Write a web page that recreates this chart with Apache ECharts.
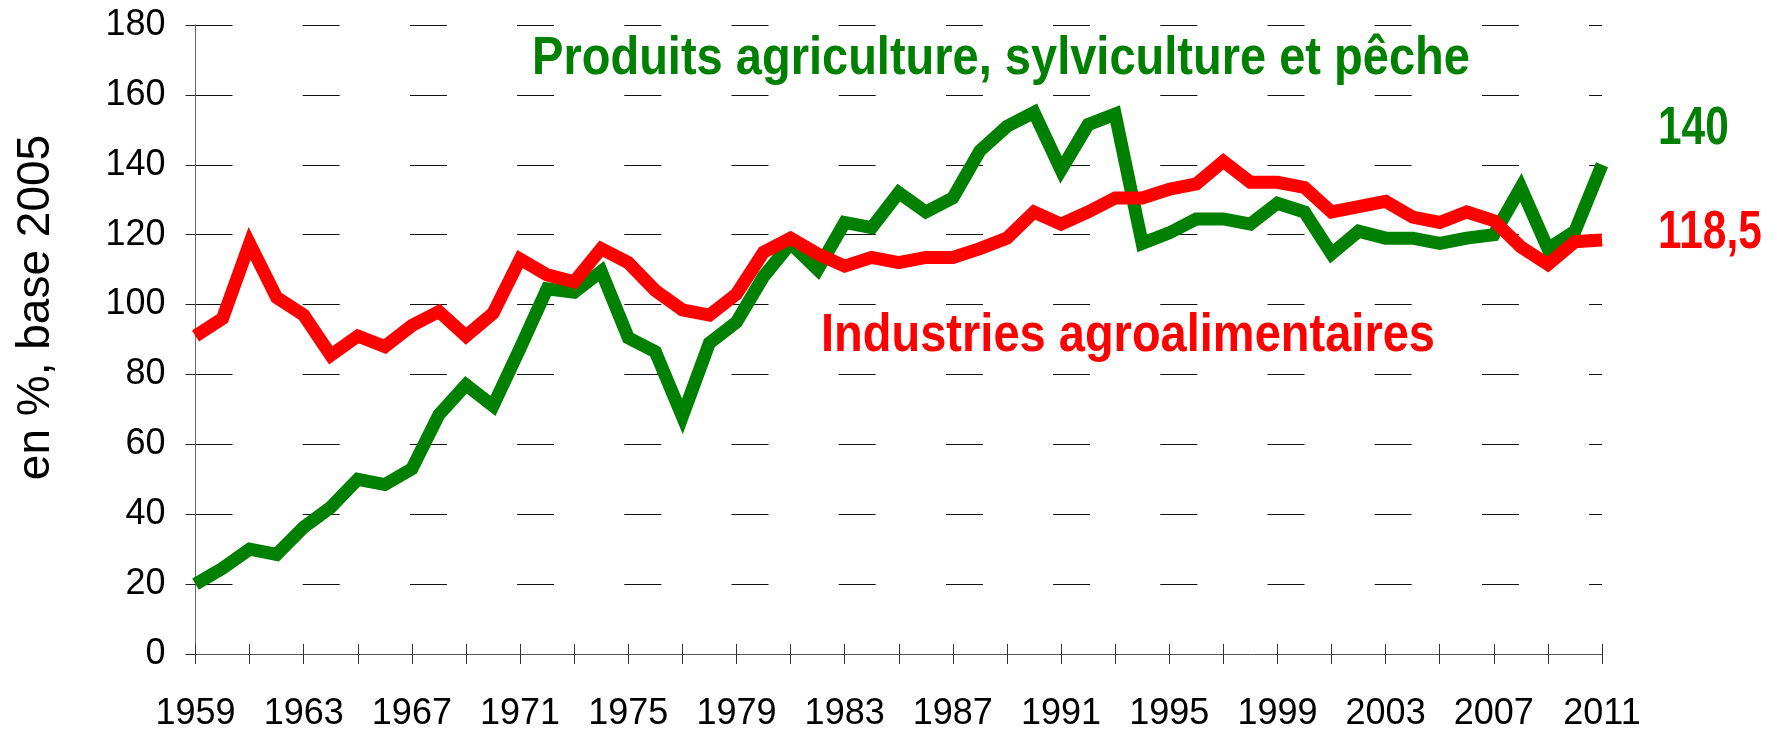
<!DOCTYPE html>
<html>
<head>
<meta charset="utf-8">
<script src="https://cdn.jsdelivr.net/npm/echarts@6/dist/echarts.min.js"></script>
<style>
	body { margin: 0; background: #fff; }
	#chart { width: 1777px; height: 732px; }
</style>
</head>
<body>
<div id="chart"></div>
<script>
	// années 1959 -> 2011
	var years = [];
	for (var y = 1959; y <= 2011; y++) years.push(String(y));

	// Produits agriculture, sylviculture et pêche (base 2005)
	var agri = [
		20, 24.5, 30, 28.5, 36.3, 42, 50, 48.5, 53, 68.5,
		77, 71, 87.5, 104.5, 103.5, 109.5, 90.5, 86.5, 68, 89,
		95, 108, 117.5, 110, 123.5, 122, 132, 126.5, 130.5, 144,
		151, 155, 138.5, 151.5, 154.5, 117.5, 120.5, 124.5, 124.5, 123,
		129, 126.5, 114.5, 121, 119, 119, 117.5, 119, 120, 133.5,
		116, 121, 140
	];
	// Industries agroalimentaires (base 2005)
	var iaa = [
		91, 96, 117.5, 102, 97, 85.5, 91, 88, 94, 98,
		91, 97.5, 113, 108.5, 106.5, 116, 112, 104, 98.5, 97,
		103, 115, 119, 114.5, 111, 113.5, 112, 113.5, 113.5, 116,
		119, 126.5, 123, 126.5, 130.5, 130.5, 133, 134.5, 141, 135,
		135, 133.5, 126.5, 128, 129.5, 125, 123.5, 126.5, 124, 116.5,
		111.5, 118, 118.5
	];
	var agriName = 'Produits agriculture, sylviculture et pêche';
	var iaaName = 'Industries agroalimentaires';
	var agriEnd = '140';
	var iaaEnd = '118,5';

	var GREEN = '#008000', RED = '#FF0000';
	var sans = '"Liberation Sans", Arial, sans-serif';
	var bold = 'bold 53px ' + sans;

	// texte gras "étroit" : police normale comprimée horizontalement
	function narrowText(txt, x, y, color, align, sx) {
		return {
			type: 'text',
			x: x, y: y,
			scaleX: sx,
			style: { text: txt, fill: color, font: bold, align: align, verticalAlign: 'middle' }
		};
	}

	var myChart = echarts.init(document.getElementById('chart'));
	myChart.setOption({
		animation: false,
		backgroundColor: '#fff',
		grid: { left: 195.5, right: 175, top: 25, bottom: 77 },
		xAxis: [{
			type: 'category',
			data: years,
			boundaryGap: false,
			axisLine: { lineStyle: { color: '#555', width: 1 } },
			axisTick: { interval: 1, length: 10, lineStyle: { color: '#333' } },
			axisLabel: { interval: 3, fontSize: 36, fontFamily: sans, color: '#000', margin: 42 },
			splitLine: { show: false }
		}, {
			// petites graduations vers l'intérieur (croisées)
			type: 'category',
			data: years,
			boundaryGap: false,
			position: 'bottom',
			axisLine: { show: false },
			axisTick: { interval: 1, length: 10, inside: true, lineStyle: { color: '#333' } },
			axisLabel: { show: false },
			splitLine: { show: false }
		}],
		yAxis: {
			type: 'value',
			min: 0,
			max: 180,
			interval: 20,
			axisLine: { show: true, lineStyle: { color: '#666', width: 1 } },
			axisTick: { show: true, length: 10, lineStyle: { color: '#222' } },
			axisLabel: { fontSize: 36, fontFamily: sans, color: '#000', margin: 30 },
			splitLine: { show: true, lineStyle: { color: '#111', width: 1, type: [37, 70.2] } }
		},
		series: [{
			name: agriName,
			type: 'line',
			data: agri,
			showSymbol: false,
			lineStyle: { color: GREEN, width: 13, join: 'miter', miterLimit: 10 },
			itemStyle: { color: GREEN },
			z: 2
		}, {
			name: iaaName,
			type: 'line',
			data: iaa,
			showSymbol: false,
			lineStyle: { color: RED, width: 13, join: 'miter', miterLimit: 10 },
			itemStyle: { color: RED },
			z: 3
		}],
		graphic: [
			narrowText(agriName, 1001, 59, GREEN, 'center', 0.887),
			narrowText(iaaName, 1128, 336, RED, 'center', 0.887),
			narrowText(agriEnd, 1658, 129, GREEN, 'left', 0.8),
			narrowText(iaaEnd, 1658, 233, RED, 'left', 0.8),
			{
				type: 'text',
				x: 36.5, y: 307.5,
				rotation: Math.PI / 2,
				style: { text: 'en %, base 2005', fill: '#000', font: '46px ' + sans, align: 'center', verticalAlign: 'middle' }
			}
		]
	});
	window.onresize = function () {
		myChart.resize();
	};
</script>
</body>
</html>
